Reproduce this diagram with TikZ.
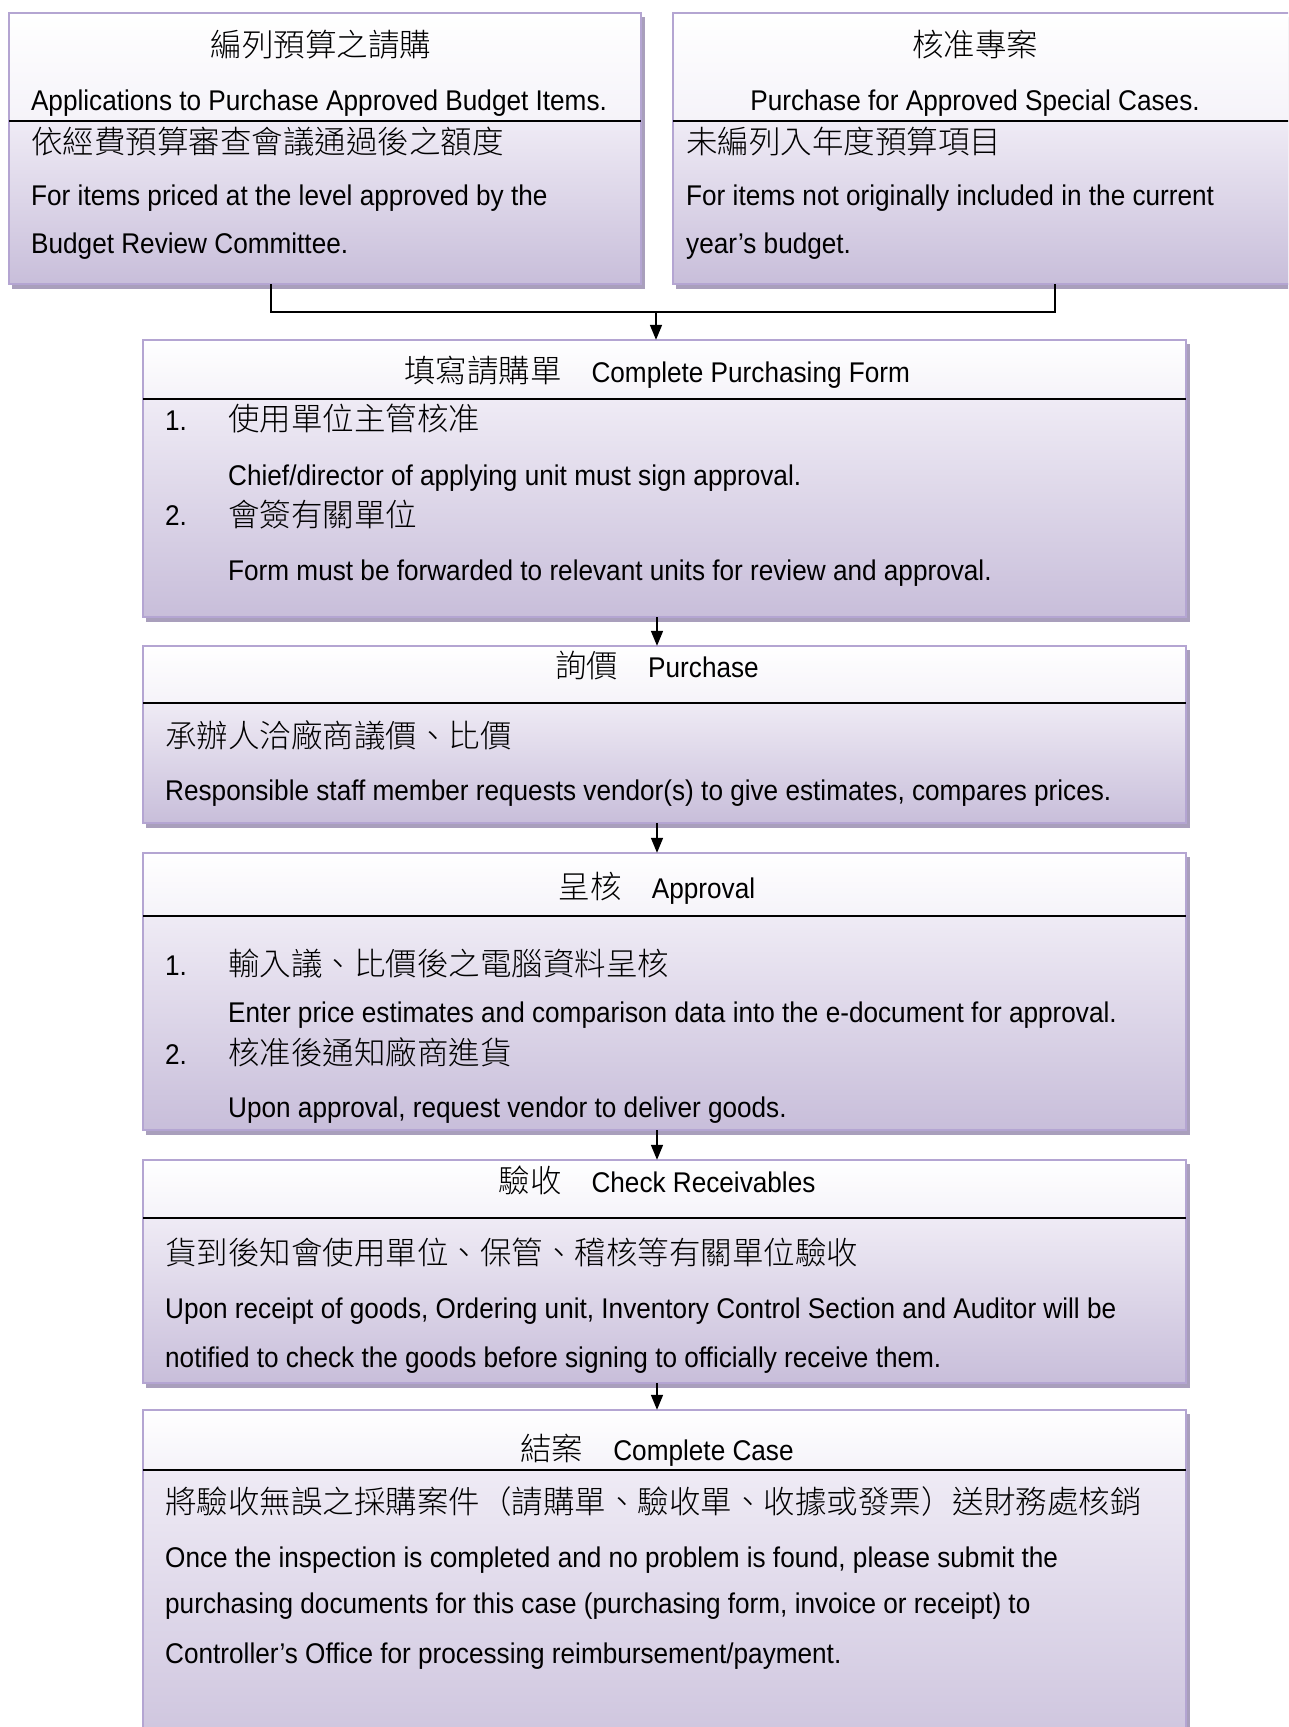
\documentclass[tikz,border=0pt]{standalone}
\usepackage{fontspec}
\setmainfont{Liberation Sans}[FakeStretch=0.918]
\newfontfamily\cjk{Noto Sans CJK TC}[UprightFont=* Light]
\usetikzlibrary{fit,arrows.meta}
\definecolor{bordc}{HTML}{B4A5D2}
\definecolor{shadc}{HTML}{A99FBC}
\definecolor{headc}{HTML}{F5F3F9}
\definecolor{btop}{HTML}{EFEBF5}
\definecolor{bbot}{HTML}{C8BEDA}
\newcommand{\zh}[1]{{\cjk\fontsize{31.5}{36}\selectfont #1}}
\newcommand{\flowbox}[6]{%
 \fill[shadc] (#2+3,#3+4) rectangle (#4+4,#6+5);
 \shade[top color=white,bottom color=headc] (#2,#3) rectangle (#4,#5);
 \shade[top color=btop,bottom color=bbot] (#2,#5) rectangle (#4,#6);
 \draw[bordc,line width=2pt] (#2,#3) rectangle (#4,#6);
 \draw[black,line width=1.8pt] (#2,#5) -- (#4,#5);
 \node[fit={(#2,#3) (#4,#6)},inner sep=0pt] (#1) {};
}
\begin{document}
\begin{tikzpicture}[x=1pt,y=-1pt,
  en/.style={anchor=base west,inner sep=0pt,font=\fontsize{28.5}{32}\selectfont},
  enc/.style={anchor=base,inner sep=0pt,font=\fontsize{28.5}{32}\selectfont},
  conn/.style={black,line width=1.6pt},
  arr/.style={conn,-{Triangle[length=15pt,width=12pt]}}]
\path[use as bounding box] (0,0) rectangle (1288,1727);
\clip (0,0) rectangle (1288,1727);
\fill[white] (0,0) rectangle (1288,1727);

% top boxes
\flowbox{L}{9}{13}{641}{121}{284}
\flowbox{R}{673}{13}{1305}{121}{284}
% flow boxes
\flowbox{B2}{143}{340}{1186}{399}{617}
\flowbox{B3}{143}{646}{1186}{703}{823}
\flowbox{B4}{143}{853}{1186}{916}{1130}
\flowbox{B5}{143}{1160}{1186}{1218}{1383}
\flowbox{B6}{143}{1410}{1186}{1470}{1790}

% left box texts
\node[enc] (l1) at (321,56) {\zh{編列預算之請購}};
\node[enc] (l2) at (319,110) {Applications to Purchase Approved Budget Items.};
\node[en] (l3) at (31,153) {\zh{依經費預算審查會議通過後之額度}};
\node[en] (l4) at (31,205) {For items priced at the level approved by the};
\node[en] (l5) at (31,253) {Budget Review Committee.};

% right box texts
\node[enc] (r1) at (975,56) {\zh{核准專案}};
\node[enc] (r2) at (975,110) {Purchase for Approved Special Cases.};
\node[en] (r3) at (686,153) {\zh{未編列入年度預算項目}};
\node[en] (r4) at (686,205) {For items not originally included in the current};
\node[en] (r5) at (686,253) {year’s budget.};

% box 2
\node[enc] (t2) at (657,382) {\zh{填寫請購單}\hspace{30pt}Complete Purchasing Form};
\node[en] (n21) at (165,430) {1.};
\node[en] (c21) at (228,430) {\zh{使用單位主管核准}};
\node[en] (e21) at (228,485) {Chief/director of applying unit must sign approval.};
\node[en] (n22) at (165,525) {2.};
\node[en] (c22) at (228,526) {\zh{會簽有關單位}};
\node[en] (e22) at (228,580) {Form must be forwarded to relevant units for review and approval.};

% box 3
\node[enc] (t3) at (657,677) {\zh{詢價}\hspace{30pt}Purchase};
\node[en] (c31) at (165,747) {\zh{承辦人洽廠商議價、比價}};
\node[en] (e31) at (165,800) {Responsible staff member requests vendor(s) to give estimates, compares prices.};

% box 4
\node[enc] (t4) at (657,898) {\zh{呈核}\hspace{30pt}Approval};
\node[en] (n41) at (165,975) {1.};
\node[en] (c41) at (228,975) {\zh{輸入議、比價後之電腦資料呈核}};
\node[en] (e41) at (228,1022) {Enter price estimates and comparison data into the e-document for approval.};
\node[en] (n42) at (165,1064) {2.};
\node[en] (c42) at (228,1064) {\zh{核准後通知廠商進貨}};
\node[en] (e42) at (228,1117) {Upon approval, request vendor to deliver goods.};

% box 5
\node[enc] (t5) at (657,1192) {\zh{驗收}\hspace{30pt}Check Receivables};
\node[en] (c51) at (165,1264) {\zh{貨到後知會使用單位、保管、稽核等有關單位驗收}};
\node[en] (e51) at (165,1318) {Upon receipt of goods, Ordering unit, Inventory Control Section and Auditor will be};
\node[en] (e52) at (165,1367) {notified to check the goods before signing to officially receive them.};

% box 6
\node[enc] (t6) at (657,1460) {\zh{結案}\hspace{30pt}Complete Case};
\node[en] (c61) at (165,1513) {\zh{將驗收無誤之採購案件（請購單、驗收單、收據或發票）送財務處核銷}};
\node[en] (e61) at (165,1567) {Once the inspection is completed and no problem is found, please submit the};
\node[en] (e62) at (165,1613) {purchasing documents for this case (purchasing form, invoice or receipt) to};
\node[en] (e63) at (165,1663) {Controller’s Office for processing reimbursement/payment.};

% connectors
\coordinate (jl) at (271,312);
\coordinate (jr) at (1055,312);
\coordinate (jm) at (656,312);
\coordinate (ax) at (657,0);
\draw[conn] (jl |- L.south) -- (jl) -- (jr) -- (jr |- R.south);
\draw[arr] (jm) -- (jm |- B2.north);
\draw[arr] (ax |- B2.south) -- (ax |- B3.north);
\draw[arr] (ax |- B3.south) -- (ax |- B4.north);
\draw[arr] (ax |- B4.south) -- (ax |- B5.north);
\draw[arr] (ax |- B5.south) -- (ax |- B6.north);
\end{tikzpicture}
\end{document}
